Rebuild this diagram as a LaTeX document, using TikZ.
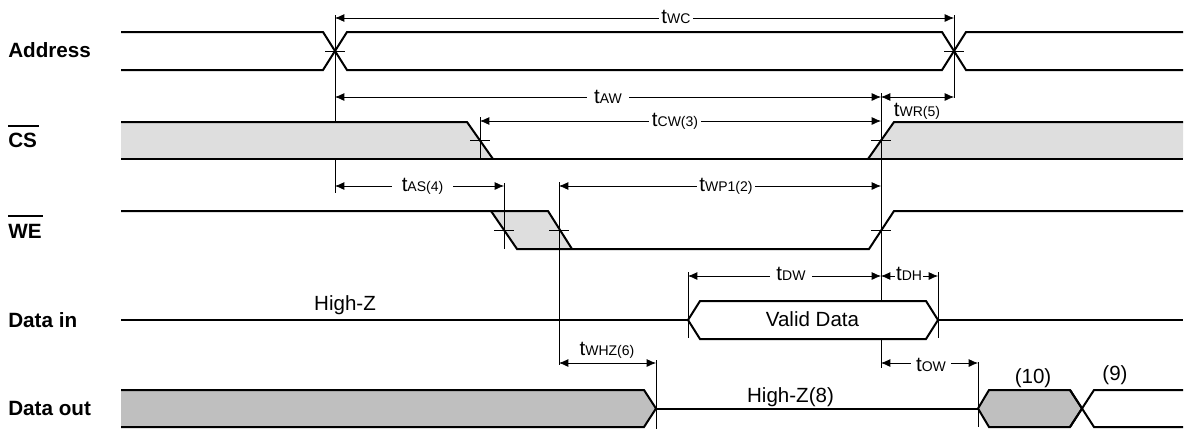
\documentclass[tikz,border=0pt]{standalone}
\usepackage{fontspec}
\setmainfont{Liberation Sans}
\usetikzlibrary{arrows.meta}
\definecolor{lightg}{RGB}{222,222,222}
\definecolor{darkg}{RGB}{191,191,191}
\newcommand\tm[1]{t{\fontsize{10.5}{12}\selectfont #1}}
\begin{document}
\begin{tikzpicture}[x=0.75pt,y=-0.75pt,
  sig/.style={line width=1.5pt, line join=miter},
  ext/.style={line width=0.6pt},
  tickmark/.style={line width=0.6pt},
  dimarr/.style={line width=0.6pt, {Latex[length=7pt,width=6pt]}-{Latex[length=7pt,width=6pt]}},
  lbl/.style={font=\fontsize{15.4}{18}\selectfont, inner sep=0pt, anchor=base},
  lblbg/.style={lbl, fill=white, inner xsep=2pt, inner ysep=1pt},
  sname/.style={font=\fontsize{15.5}{18}\selectfont\bfseries, inner sep=0pt, anchor=base west}]
\useasboundingbox (0,0) rectangle (1184,429);

% signal names
\node[sname] (nAddr) at (8,57.7) {Address};
\node[sname] (nCS) at (8,147.3) {CS};
\draw[line width=1.5pt] (8,126) -- (39,126);
\node[sname] (nWE) at (8,238.3) {WE};
\draw[line width=1.5pt] (8,215.7) -- (43,215.7);
\node[sname] (nDin) at (8,327.3) {Data in};
\node[sname] (nDout) at (8,415) {Data out};

% fills
\fill[lightg] (121,122) -- (467,122) -- (493,159) -- (121,159) -- cycle;
\fill[lightg] (868,159) -- (894,122) -- (1183,122) -- (1183,159) -- cycle;
\fill[lightg] (491,211) -- (548,211) -- (572,249) -- (517,249) -- cycle;
\fill[darkg] (121,390) -- (644,390) -- (656,408.5) -- (644,427) -- (121,427) -- cycle;

% extension lines
\draw[ext] (335,15) -- (335,122);
\draw[ext] (335,159) -- (335,193);
\draw[ext] (954,15) -- (954,98);
\draw[ext] (480,117) -- (480,159);
\draw[ext] (881,93) -- (881,368);
\draw[ext] (504,183) -- (504,249);
\draw[ext] (559,182) -- (559,365);
\draw[ext] (688,272) -- (688,338);
\draw[ext] (938,272) -- (938,338);
\draw[ext] (656,360) -- (656,429);
\draw[ext] (978,362) -- (978,427);

% Address
\draw[sig] (121,32) -- (323,32) -- (347,70) -- (942,70) -- (966,32) -- (1183,32);
\draw[sig] (121,70) -- (323,70) -- (347,32) -- (942,32) -- (966,70) -- (1183,70);
% CS
\draw[sig] (121,122) -- (467,122) -- (493,159);
\draw[sig] (121,159) -- (1183,159);
\draw[sig] (868,159) -- (894,122) -- (1183,122);
% WE
\draw[sig] (121,211) -- (548,211) -- (572,249);
\draw[sig] (491,211) -- (517,249) -- (869,249) -- (894,211) -- (1183,211);
% Data in
\draw[sig] (121,320) -- (688,320);
\draw[sig] (938,320) -- (1183,320);
\draw[sig, fill=white] (688,320) -- (700,301) -- (926,301) -- (938,320) -- (926,339) -- (700,339) -- cycle;
% Data out
\draw[sig] (121,390) -- (644,390) -- (656,408.5) -- (644,427) -- (121,427);
\draw[sig] (656,408.5) -- (978,408.5);
\draw[sig, fill=darkg] (978,408.5) -- (989,390) -- (1070,390) -- (1082,408.5) -- (1070,427) -- (989,427) -- cycle;
\draw[sig] (1070,390) -- (1094,427) -- (1183,427);
\draw[sig] (1070,427) -- (1094,390) -- (1183,390);

% ticks at crossings
\foreach \x/\y in {335/51, 954/51, 480/140.5, 881/140.5, 504/230, 559/230, 881/230}
  \draw[tickmark] (\x-10,\y) -- (\x+10,\y);

% dimension coordinates
\coordinate (wc0) at (335,18);   \coordinate (wc1) at (954,18);
\coordinate (aw0) at (335,97);   \coordinate (aw1) at (881,97);
\coordinate (wr0) at (881,97);   \coordinate (wr1) at (954,97);
\coordinate (cw0) at (480,121);  \coordinate (cw1) at (881,121);
\coordinate (as0) at (335,186);  \coordinate (as1) at (504,186);
\coordinate (wp0) at (559,186);  \coordinate (wp1) at (881,186);
\coordinate (dw0) at (688,276);  \coordinate (dw1) at (881,276);
\coordinate (dh0) at (881,276);  \coordinate (dh1) at (938,276);
\coordinate (hz0) at (559,363);  \coordinate (hz1) at (656,363);
\coordinate (ow0) at (881,363);  \coordinate (ow1) at (978,363);

\draw[dimarr] (wc0) -- (wc1);
\draw[dimarr] (aw0) -- (aw1);
\draw[dimarr] (wr0) -- (wr1);
\draw[dimarr] (cw0) -- (cw1);
\draw[dimarr] (as0) -- (as1);
\draw[dimarr] (wp0) -- (wp1);
\draw[dimarr] (dw0) -- (dw1);
\draw[dimarr] (dh0) -- (dh1);
\draw[dimarr] (hz0) -- (hz1);
\draw[dimarr] (ow0) -- (ow1);

% labels
\node[lblbg] (lwc) at (676,23.3) {\tm{WC}};
\node[lblbg, inner xsep=5pt] (law) at (608,103) {\tm{AW}};
\node[lbl] (lwr) at (917,116.5) {\tm{WR(5)}};
\node[lblbg] (lcw) at (675,126.5) {\tm{CW(3)}};
\node[lblbg, inner xsep=7pt] (las) at (422.5,191) {\tm{AS(4)}};
\node[lblbg] (lwp) at (726,191.5) {\tm{WP1(2)}};
\node[lblbg, inner xsep=5pt] (ldw) at (791,280.5) {\tm{DW}};
\node[lblbg, inner xsep=1pt] (ldh) at (909,280.5) {\tm{DH}};
\node[lbl] (lhz) at (607,355) {\tm{WHZ(6)}};
\node[lblbg, inner xsep=4pt] (low) at (931,371) {\tm{OW}};
\node[lbl] (hiz) at (345,310) {High-Z};
\node[lbl] (valid) at (812.5,326.7) {Valid Data};
\node[lbl] (hiz8) at (790.5,402.5) {High-Z(8)};
\node[lbl] (n10) at (1033,383) {(10)};
\node[lbl] (n9) at (1115,380) {(9)};
\end{tikzpicture}
\end{document}
